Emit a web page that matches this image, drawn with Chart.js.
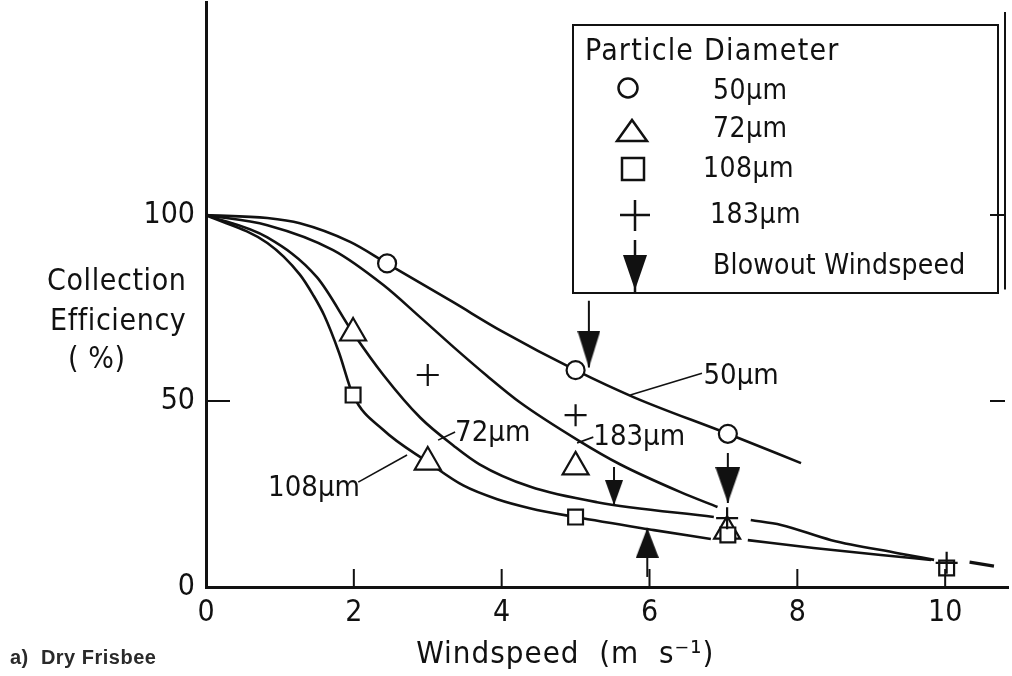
<!DOCTYPE html>
<html lang="en">
<head>
<meta charset="UTF-8">
<title>Collection efficiency - dry frisbee</title>
<script src="https://cdn.jsdelivr.net/npm/chart.js"></script>
<style>
  body { margin: 0; background: #fff; }
  canvas { display: block; }
</style>
</head>
<body>
<canvas id="myChart" width="1012" height="676"></canvas>
<script>
// axis ticks
const xTicks = [0, 2, 4, 6, 8, 10];
const yTicks = [0, 50, 100];

// fitted curves (windspeed m/s, efficiency %)
const c50X  = [0, 0.83, 1.27, 1.95, 2.45, 3.35, 4.0, 5.0, 5.79, 7.06, 8.05];
const c50Y  = [100, 99.2, 97.8, 92.8, 87, 76.5, 68.8, 58.3, 51, 41.2, 33.3];
const c183X = [0, 0.83, 1.72, 2.4, 2.9, 3.35, 3.8, 4.25, 5.03, 5.6, 6.42, 6.92];
const c183Y = [100, 97.3, 90.6, 81.2, 72.5, 64.5, 56.8, 49.6, 39.5, 33, 25.5, 21.5];
const c72X  = [0, 0.83, 1.5, 1.99, 2.4, 2.9, 3.35, 3.7, 4.38, 5.29, 6.87];
const c72Y  = [100, 94, 83.3, 68.3, 57, 45.5, 38, 33, 27, 22.8, 18.8];
const c108X = [0, 0.83, 1.27, 1.45, 1.6, 1.8, 1.99, 2.4, 3.0, 3.48, 3.94, 4.38, 5.0, 6.06, 6.83];
const c108Y = [100, 92.5, 84, 78.5, 73, 63, 51.6, 42.2, 33.6, 27.3, 23.6, 21.2, 18.8, 15.3, 12.9];
// extrapolated tails beyond 7 m/s
const t72X  = [7.37, 7.78, 8.46, 9.36, 9.85];
const t72Y  = [18, 16.7, 12.6, 9.1, 7.3];
const t108X = [7.33, 8.22, 9.13, 9.81];
const t108Y = [12.6, 10.5, 8.6, 7.3];
const tailX = [10.33, 10.66];
const tailY = [6.7, 5.6];

// measured points
const p50X  = [2.45, 5.0, 7.06];
const p50Y  = [87, 58.3, 41.2];
const p72X  = [1.99, 3.0, 5.0, 7.05];
const p72Y  = [68.3, 33.6, 32.3, 15];
const p108X = [1.99, 5.0, 7.06, 10.02];
const p108Y = [51.6, 18.8, 14, 5.1];
const p183X = [3.0, 5.0, 7.05, 10.02];
const p183Y = [57, 46.2, 18.5, 6.5];

// blowout windspeed arrows: x, arrow tip, stem end
const blowX    = [5.18, 5.52, 7.06, 5.97];
const blowTip  = [59, 22, 22.6, 15.9];
const blowTail = [77, 32.3, 36, 2.7];

// curve labels with their leader lines
const curveLabels = ['50µm', '183µm', '72µm', '108µm'];
const labelX = [6.73, 5.24, 3.37, 0.84];
const labelY = [56.5, 40.3, 41.4, 26.6];
const leadX0 = [5.74, 5.02, 3.14, 2.06];
const leadY0 = [51.6, 38.7, 39.5, 28.2];
const leadX1 = [6.71, 5.24, 3.37, 2.72];
const leadY1 = [57.5, 40.3, 41.7, 35.5];

// ---- styles ----
const INK = '#111';
const FONT = '"DejaVu Sans Condensed", "DejaVu Sans", sans-serif';
const headSize = [[23, 37], [18, 25], [25, 36], [23, 30]]; // width, height in px

function pts(xs, ys) {
    return xs.map((v, i) => ({ x: v, y: ys[i] }));
}

function curve(xs, ys, extra) {
    return Object.assign({
        data: pts(xs, ys),
        showLine: true,
        borderColor: INK,
        borderWidth: 2.6,
        pointRadius: 0,
        cubicInterpolationMode: 'monotone',
        fill: false,
        order: 5
    }, extra || {});
}

function markers(xs, ys, style, r, order) {
    return {
        data: pts(xs, ys),
        showLine: false,
        pointStyle: style,
        pointRadius: r,
        borderColor: INK,
        borderWidth: 2.2,
        backgroundColor: '#fff',
        order: order
    };
}

// arrowhead image, tip in the centre of the canvas
function arrowHead(w, h, up) {
    const c = document.createElement('canvas');
    c.width = w;
    c.height = h * 2;
    const g = c.getContext('2d');
    g.fillStyle = INK;
    g.beginPath();
    if (up) {
        g.moveTo(w / 2, h); g.lineTo(0, 2 * h); g.lineTo(w, 2 * h);
    } else {
        g.moveTo(0, 0); g.lineTo(w, 0); g.lineTo(w / 2, h);
    }
    g.closePath();
    g.fill();
    return c;
}
const heads = blowX.map((v, i) => arrowHead(headSize[i][0], headSize[i][1], blowTip[i] > blowTail[i]));

const datasets = [];
datasets.push(markers(p50X, p50Y, 'circle', 9, 0));
datasets.push(markers(p72X, p72Y, 'triangle', 15, 0));
datasets.push(markers(p108X, p108Y, 'rect', 10.5, -1));
datasets.push(markers(p183X, p183Y, 'cross', 11, -2));
datasets.push({
    data: pts(blowX, blowTip),
    showLine: false,
    pointStyle: heads,
    pointRadius: 10,
    order: 1
});
blowX.forEach((v, i) => {
    datasets.push(curve([v, v], [blowTail[i], blowTip[i]], { borderWidth: 2, cubicInterpolationMode: 'default', tension: 0, order: 2 }));
});
datasets.push(curve(c50X, c50Y));
datasets.push(curve(c183X, c183Y));
datasets.push(curve(c72X, c72Y));
datasets.push(curve(c108X, c108Y));
datasets.push(curve(t72X, t72Y));
datasets.push(curve(t108X, t108Y));
datasets.push(curve(tailX, tailY, { borderWidth: 3.2 }));
leadX0.forEach((v, i) => {
    datasets.push(curve([v, leadX1[i]], [leadY0[i], leadY1[i]], { borderWidth: 1.6, cubicInterpolationMode: 'default', tension: 0, order: 6 }));
});

function text(ctx, s, x, y, size, align, spacing) {
    ctx.font = size + 'px ' + FONT;
    ctx.letterSpacing = (spacing || 0) + 'px';
    ctx.textAlign = align || 'left';
    ctx.textBaseline = 'middle';
    ctx.fillStyle = INK;
    ctx.fillText(s, x, y);
}

// axes decorations, texts and the key box
const decor = {
    id: 'decor',
    afterDraw(chart) {
        const ctx = chart.ctx;
        const xs = chart.scales.x, ys = chart.scales.y;
        const bottom = ys.getPixelForValue(0);
        ctx.save();
        ctx.strokeStyle = INK;
        ctx.lineCap = 'butt';

        // inward ticks
        ctx.lineWidth = 2;
        ctx.beginPath();
        xTicks.slice(1).forEach(v => {
            const px = xs.getPixelForValue(v);
            ctx.moveTo(px, bottom); ctx.lineTo(px, bottom - 18);
        });
        const p50 = ys.getPixelForValue(50);
        ctx.moveTo(xs.left, p50); ctx.lineTo(xs.left + 24, p50);
        // partial right frame
        ctx.moveTo(xs.right - 3, ys.top + 10); ctx.lineTo(xs.right - 3, ys.getPixelForValue(80));
        [100, 50].forEach(v => {
            const py = ys.getPixelForValue(v);
            ctx.moveTo(xs.right - 3, py); ctx.lineTo(xs.right - 18, py);
        });
        ctx.stroke();

        // curve labels
        curveLabels.forEach((s, i) => {
            text(ctx, s, xs.getPixelForValue(labelX[i]), ys.getPixelForValue(labelY[i]), 29, 'left', 0);
        });

        // y title
        const yt = ys.getPixelForValue(100);
        text(ctx, 'Collection', 47, yt + 67, 30, 'left', 0.6);
        text(ctx, 'Efficiency', 50, yt + 107, 30, 'left', 0.6);
        text(ctx, '( %)', 68, yt + 145, 30, 'left', 0.6);

        // x title
        text(ctx, 'Windspeed  (m  s\u207B\u00B9)', xs.getPixelForValue(4.86), bottom + 68, 31, 'center', 1);

        // caption
        ctx.font = 'bold 20px "Liberation Sans", Arial, sans-serif';
        ctx.letterSpacing = '0.5px';
        ctx.textAlign = 'left';
        ctx.fillStyle = '#2a2a2a';
        ctx.fillText('a)  Dry Frisbee', 10, bottom + 71);

        // key box
        ctx.lineWidth = 2;
        ctx.strokeRect(573, 25, 425, 268);
        text(ctx, 'Particle Diameter', 585, 52, 30, 'left', 1.2);
        text(ctx, '50µm', 713, 92, 28, 'left', 0.5);
        text(ctx, '72µm', 713, 130, 28, 'left', 0.5);
        text(ctx, '108µm', 703, 170, 28, 'left', 0.5);
        text(ctx, '183µm', 710, 216, 28, 'left', 0.5);
        text(ctx, 'Blowout Windspeed', 713, 267, 28, 'left', 0.2);

        ctx.lineWidth = 2.5;
        ctx.beginPath();
        ctx.arc(628, 88, 9.5, 0, Math.PI * 2);
        ctx.stroke();
        ctx.beginPath();
        ctx.moveTo(617, 141); ctx.lineTo(647, 141); ctx.lineTo(632, 120); ctx.closePath();
        ctx.stroke();
        ctx.strokeRect(622, 158, 22, 22);
        ctx.beginPath();
        ctx.moveTo(620, 215); ctx.lineTo(650, 215);
        ctx.moveTo(635, 200); ctx.lineTo(635, 231);
        ctx.moveTo(635, 240); ctx.lineTo(635, 293);
        ctx.stroke();
        ctx.fillStyle = INK;
        ctx.beginPath();
        ctx.moveTo(623, 255); ctx.lineTo(647, 255); ctx.lineTo(635, 290); ctx.closePath();
        ctx.fill();
        ctx.restore();
    }
};

const tickFont = { family: FONT, size: 30 };

new Chart(document.getElementById('myChart'), {
    type: 'scatter',
    data: { datasets: datasets },
    options: {
        responsive: false,
        animation: false,
        events: [],
        layout: { autoPadding: false, padding: { left: 146, right: 4, top: 2, bottom: 39 } },
        plugins: { legend: { display: false }, tooltip: { enabled: false } },
        scales: {
            x: {
                type: 'linear', min: 0, max: 10.85,
                afterBuildTicks: s => { s.ticks = xTicks.map(v => ({ value: v })); },
                afterFit: s => { s.height = 50; s.paddingLeft = 0; s.paddingRight = 0; },
                border: { display: true, color: INK, width: 3 },
                grid: { display: false, drawTicks: false },
                ticks: { color: INK, font: tickFont, padding: 8, maxRotation: 0 }
            },
            y: {
                type: 'linear', min: 0, max: 157.3,
                afterBuildTicks: s => { s.ticks = yTicks.map(v => ({ value: v })); },
                afterFit: s => { s.width = 60; s.paddingTop = 0; s.paddingBottom = 0; },
                border: { display: true, color: INK, width: 3 },
                grid: { display: false, drawTicks: false },
                ticks: { color: INK, font: tickFont, padding: 11 }
            }
        }
    },
    plugins: [decor]
});
</script>
</body>
</html>
